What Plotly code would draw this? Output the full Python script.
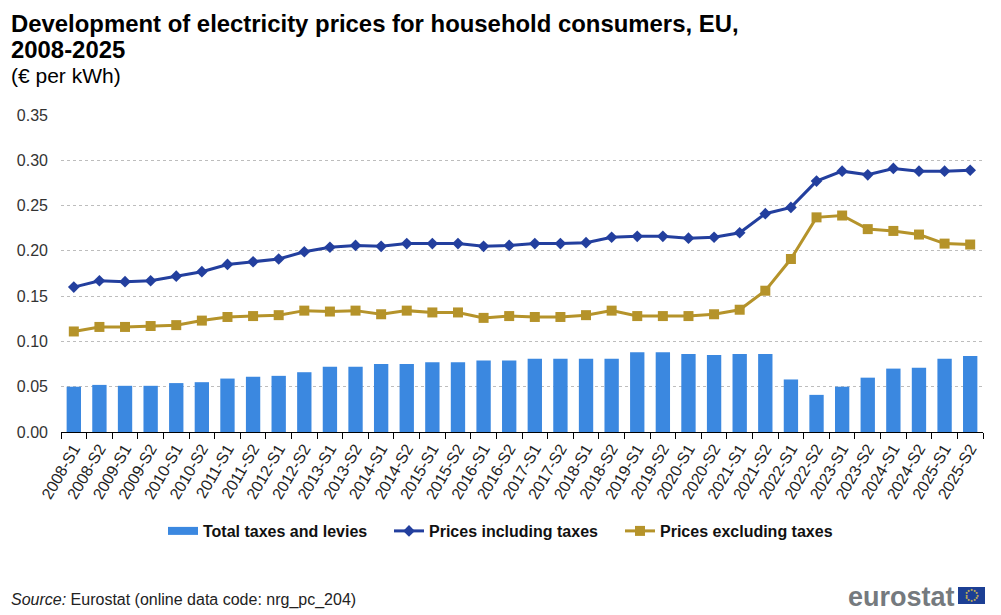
import math
import plotly.graph_objects as go

years = list(range(2008, 2026))
periods = [f"{y}-S{s}" for y in years for s in (1, 2)]

taxes_levies = [0.050, 0.052, 0.051, 0.051, 0.054, 0.055, 0.059, 0.061, 0.062, 0.066, 0.072, 0.072,
                0.075, 0.075, 0.077, 0.077, 0.079, 0.079, 0.081, 0.081, 0.081, 0.081, 0.088, 0.088,
                0.086, 0.085, 0.086, 0.086, 0.058, 0.041, 0.050, 0.060, 0.070, 0.071, 0.081, 0.084]
prices_incl = [0.160, 0.167, 0.166, 0.167, 0.172, 0.177, 0.185, 0.188, 0.191, 0.199, 0.204, 0.206,
               0.205, 0.208, 0.208, 0.208, 0.205, 0.206, 0.208, 0.208, 0.209, 0.215, 0.216, 0.216,
               0.214, 0.215, 0.220, 0.241, 0.248, 0.277, 0.288, 0.284, 0.291, 0.288, 0.288, 0.289]
prices_excl = [0.111, 0.116, 0.116, 0.117, 0.118, 0.123, 0.127, 0.128, 0.129, 0.134, 0.133, 0.134,
               0.130, 0.134, 0.132, 0.132, 0.126, 0.128, 0.127, 0.127, 0.129, 0.134, 0.128, 0.128,
               0.128, 0.130, 0.135, 0.156, 0.191, 0.237, 0.239, 0.224, 0.222, 0.218, 0.208, 0.207]

FONT = "Liberation Sans"
W, H = 1001, 615
ML, MR, MT, MB = 61, 18, 115, 183
BAR = "#3b88e0"
BLUE = "#233f9e"
GOLD = "#b5932a"

fig = go.Figure()
fig.add_bar(x=periods, y=taxes_levies, marker_color=BAR, marker_line_width=0, width=0.56, showlegend=False)
# Legend key for the bars: a thick line gives the wide flat swatch
fig.add_scatter(x=[None], y=[None], name="Total taxes and levies", mode="lines",
                line=dict(color=BAR, width=8), legend="legend")
fig.add_scatter(x=periods, y=prices_incl, name="Prices including taxes", mode="lines+markers",
                line=dict(color=BLUE, width=3), marker=dict(symbol="diamond", size=9, color=BLUE),
                legend="legend2")
fig.add_scatter(x=periods, y=prices_excl, name="Prices excluding taxes", mode="lines+markers",
                line=dict(color=GOLD, width=3), marker=dict(symbol="square", size=10, color=GOLD),
                legend="legend3")


def fx(x):
    # window pixel to paper fraction (paper spans the plot area)
    return (x - ML) / (W - ML - MR)


def fy(y):
    return (H - MB - y) / (H - MT - MB)


def legend_at(x):
    return dict(x=fx(x), xanchor="left", y=1 - 531 / H, yref="container", yanchor="middle",
                font=dict(family=FONT, size=16, color="#111111", weight="bold"),
                bgcolor="rgba(0,0,0,0)", itemwidth=30)


def note(x, y, text, size, color, xanchor="left", yanchor="top", family=FONT):
    return dict(xref="paper", yref="paper", x=fx(x), y=fy(y), xanchor=xanchor, yanchor=yanchor,
                align="left", showarrow=False, text=text, borderpad=0,
                font=dict(family=family, size=size, color=color))


annotations = [
    note(10, 9, "<b>Development of electricity prices for household consumers, EU,</b>", 23.9, "#000000"),
    note(10, 35, "<b>2008-2025</b>", 23.9, "#000000"),
    note(10, 63, "(€ per kWh)", 21, "#000000"),
    note(10, 590, "<i>Source:</i> Eurostat (online data code: nrg_pc_204)", 16, "#222222"),
    note(956, 597, "<b>eurostat</b>", 27, "#757a7e", xanchor="right", yanchor="middle"),
]

# EU flag beside the wordmark: a ring of twelve stars on a blue field
flag_cx, flag_cy, ring = 971.5, 595.5, 5.5
for i in range(12):
    a = 2 * math.pi * i / 12
    annotations.append(note(flag_cx + ring * math.cos(a), flag_cy + ring * math.sin(a), "★", 3.5,
                            "#f4d53a", xanchor="center", yanchor="middle", family="DejaVu Sans"))

fig.update_layout(
    width=W, height=H, autosize=False, paper_bgcolor="white", plot_bgcolor="white",
    margin=dict(l=ML, r=MR, t=MT, b=MB),
    font=dict(family=FONT, color="#222222"),
    showlegend=True,
    legend=legend_at(163),
    legend2=legend_at(389),
    legend3=legend_at(620),
    xaxis=dict(type="category", tickangle=-60, tickson="boundaries", ticks="outside", ticklen=6,
               tickcolor="#000000", tickwidth=1, showline=True, linecolor="#000000", linewidth=1,
               showgrid=False, tickfont=dict(family=FONT, size=16, color="#222222"),
               range=[-0.5, 35.5]),
    yaxis=dict(range=[0, 0.35], tick0=0, dtick=0.05, tickformat=".2f", showline=False, ticks="",
               ticklabelstandoff=12, gridcolor="#bdbdbd", griddash="dot", gridwidth=1, zeroline=False,
               tickfont=dict(family=FONT, size=16, color="#333333")),
    annotations=annotations,
    shapes=[dict(type="rect", xref="paper", yref="paper", x0=fx(958), x1=fx(985), y0=fy(604), y1=fy(587),
                 fillcolor="#1c3f94", line_width=0, layer="below")],
)

fig.write_html("out.html")
